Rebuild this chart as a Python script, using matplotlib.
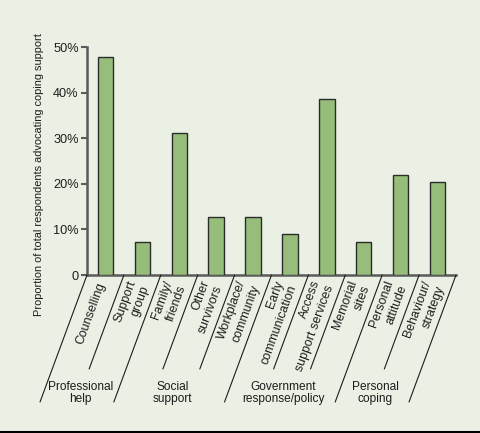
import matplotlib
matplotlib.use("Agg")
import matplotlib.pyplot as plt
from matplotlib.ticker import FuncFormatter

plt.rcParams['font.family'] = ['Liberation Sans', 'DejaVu Sans']

# data
categories = ["Counselling", "Support\ngroup", "Family/\nfriends", "Other\nsurvivors",
              "Workplace/\ncommunity", "Early\ncommunication", "Access\nsupport services",
              "Memorial\nsites", "Personal\nattitude", "Behaviour/\nstrategy"]
values = [47.9, 7.2, 31.1, 12.8, 12.8, 9.0, 38.7, 7.2, 22.0, 20.3]
groups = ["Professional\nhelp", "Social\nsupport", "Government\nresponse/policy", "Personal\ncoping"]
group_sizes = [2, 3, 3, 2]
yticks = [0, 10, 20, 30, 40, 50]

bg = '#eaf1e4'
bar_col = '#97bd7b'
axis_col = '#5a5a5a'
txt_col = '#1c1c1c'

fig = plt.figure(figsize=(4.8, 4.33), dpi=100, facecolor=bg)
ax = fig.add_axes([87/480, 1 - 275/433, (456 - 87)/480, (275 - 47)/433])
ax.set_facecolor(bg)

x = list(range(len(values)))
ax.bar(x, values, width=0.42, color=bar_col, edgecolor='#2b2b2b', linewidth=1.0, zorder=3)

ax.set_xlim(-0.5, len(values) - 0.5)
ax.set_ylim(0, 50)
ax.set_yticks(yticks)
ax.yaxis.set_major_formatter(FuncFormatter(lambda v, p: "0" if v == 0 else "%d%%" % v))
ax.tick_params(axis='y', direction='out', length=4, width=1.5, color=axis_col,
               labelsize=9.2, pad=2, labelcolor=txt_col)
ax.set_xticks([])
for s in ['top', 'right']:
    ax.spines[s].set_visible(False)
for s in ['left', 'bottom']:
    ax.spines[s].set_color(axis_col)
    ax.spines[s].set_linewidth(1.8)

# slanted separators below the axis (long ones between groups)
slope = 0.37
long_dy, short_dy = 127 * 0.72, 94 * 0.72   # points
bounds = [0]
for g in group_sizes:
    bounds.append(bounds[-1] + g)
for k in range(len(values) + 1):
    dy = long_dy if k in bounds else short_dy
    ax.annotate('', xy=(k - 0.5, 0), xycoords='data',
                xytext=(-dy * slope, -dy), textcoords='offset points',
                arrowprops=dict(arrowstyle='-', lw=0.8, color=txt_col,
                                shrinkA=0, shrinkB=0),
                annotation_clip=False)

# category labels, slanted along the separators
for i, lab in enumerate(categories):
    ax.annotate(lab, xy=(i, 0), xycoords='data', xytext=(-2.5, -6),
                textcoords='offset points', rotation=70, rotation_mode='anchor',
                ha='right', va='center', multialignment='right',
                fontsize=8.9, color=txt_col, linespacing=1.25,
                annotation_clip=False)

# group labels
gdy = 118 * 0.72
for j, g in enumerate(groups):
    mid = (bounds[j] + bounds[j + 1]) / 2 - 0.5
    ax.annotate(g, xy=(mid, 0), xycoords='data', xytext=(-gdy * slope, -gdy),
                textcoords='offset points', ha='center', va='center',
                fontsize=8.6, color=txt_col, linespacing=1.05,
                annotation_clip=False)

fig.text(39/480, 1 - 175/433, "Proportion of total respondents advocating coping support",
         rotation=90, ha='center', va='center', fontsize=7.9, color=txt_col)

# dark rule at the bottom
fig.add_artist(plt.Line2D([0, 1], [1.5/433, 1.5/433], transform=fig.transFigure,
                          color='black', lw=2.2))

fig.savefig("out.png", dpi=100, facecolor=bg)
